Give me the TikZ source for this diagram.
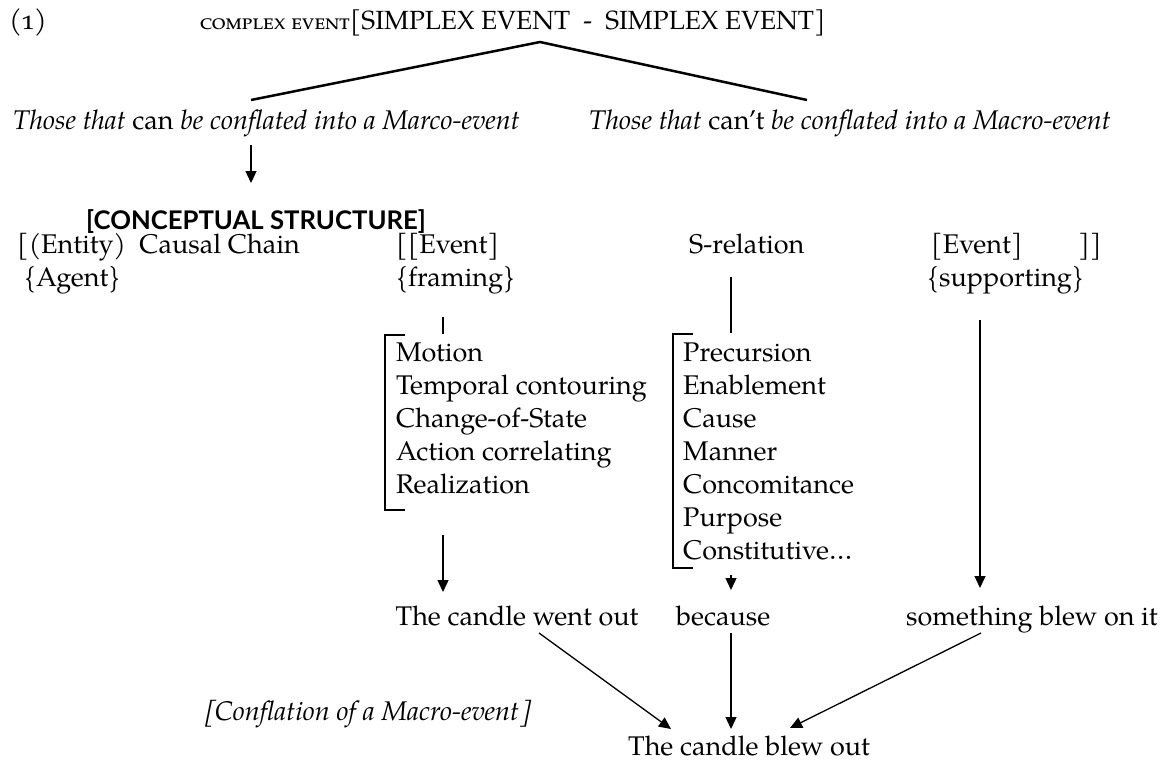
\documentclass[tikz,border=0pt]{standalone}
\usepackage{fontspec}
\setmainfont{texgyrepagella}[Extension=.otf, UprightFont=*-regular, ItalicFont=*-italic, BoldFont=*-bold, BoldItalicFont=*-bolditalic]
\newfontfamily\slbr{texgyrepagella}[Extension=.otf, UprightFont=*-regular, FakeSlant=0.2]
\newfontfamily\hsans{Lato}
\usetikzlibrary{arrows.meta}
\tikzset{
  txt/.style={inner sep=0pt, anchor=base west, font=\fontsize{27}{33}\selectfont},
  ttl/.style={inner sep=0pt, anchor=base west, font=\fontsize{26.3}{30}\selectfont},
  arr/.style={-{Triangle[length=12pt,width=11pt]}, line width=1.3pt},
  fork/.style={line width=2.5pt},
  brk/.style={line width=2.3pt, miter limit=10},
  stem/.style={line width=2pt}
}
\begin{document}
\begin{tikzpicture}[x=1pt,y=-1pt]
\useasboundingbox (0,0) rectangle (1164,761);
% title
\node[ttl, font=\fontsize{28}{30}\selectfont] (num) at (9,29) {\addfontfeatures{Numbers=OldStyle}(1)};
\node[ttl] (se) at (350,29) {[SIMPLEX EVENT\ \ -\ \ SIMPLEX EVENT]};
\node[ttl, anchor=base east, font=\fontsize{23.5}{26}\selectfont\scshape] (cx) at (se.base west) {complex event};
\coordinate (apex) at (540,42);
\coordinate (lt) at (251,100);
\coordinate (rt) at (807,100);
\draw[fork] (lt) -- (apex) -- (rt);
% two kinds
\node[txt] (can) at (13,129) {\textit{Those that} can \textit{be conflated into a Marco-event}};
\node[txt] (cant) at (589,129) {\textit{Those that} can’t \textit{be conflated into a Macro-event}};
\coordinate (a0s) at (251,145);
\coordinate (a0e) at (251,183);
\draw[arr] (a0s) -- (a0e);
% conceptual structure
\node[txt, font={\fontsize{25.7}{30}\hsans\bfseries}] (cs) at (86,229) {[CONCEPTUAL STRUCTURE]};
\node[txt] (entity) at (17,253) {[(Entity)\ \ Causal Chain};
\node[txt] (evf) at (396,253) {[[Event]};
\node[txt] (srel) at (689,253) {S-relation};
\node[txt] (evs) at (931,253) {[Event]};
\node[txt] (rbr) at (1078,253) {]]};
\node[txt] (agent) at (24,286) {\{Agent\}};
\node[txt] (framing) at (396,286) {\{framing\}};
\node[txt] (supp) at (927,286) {\{supporting\}};
% framing list
\coordinate (f1) at (443,317);
\coordinate (f2) at (443,334);
\draw[stem] (f1) -- (f2);
\draw[brk] (405,335) -- (385,335) -- (385,510) -- (405,510);
\foreach \t [count=\i] in {Motion, Temporal contouring, Change-of-State, Action correlating, Realization}
  \node[txt] (m\i) at (396,328.7+33*\i) {\t};
% S-relation list
\coordinate (s1) at (731,277);
\coordinate (s2) at (731,333);
\draw[stem] (s1) -- (s2);
\draw[brk] (693,334) -- (673,334) -- (673,568) -- (693,568);
\foreach \t [count=\i] in {Precursion, Enablement, Cause, Manner, Concomitance, Purpose, {Constitutive…}}
  \node[txt] (p\i) at (683,328.7+33*\i) {\t};
% arrows down to sentence
\coordinate (fa1) at (443,535);
\coordinate (fa2) at (443,592);
\draw[arr] (fa1) -- (fa2);
\coordinate (sa1) at (731,575);
\coordinate (sa2) at (731,590);
\draw[arr] (sa1) -- (sa2);
\coordinate (ua1) at (980,320);
\coordinate (ua2) at (980,588);
\draw[arr] (ua1) -- (ua2);
% sentence
\node[txt] (went) at (395.5,625) {The candle went out};
\node[txt] (because) at (676,625) {because};
\node[txt] (sblew) at (906,625) {something blew on it};
% conflation
\node[txt] (conf) at (203,720) {{\slbr[}\textit{Conflation of a Macro-event}{\slbr]}};
\node[txt] (blew) at (628,755) {The candle blew out};
\coordinate (d1s) at (539,633);
\coordinate (d1e) at (671,729);
\coordinate (d2s) at (731,633);
\coordinate (d2e) at (731,729);
\coordinate (d3s) at (981,633);
\coordinate (d3e) at (790,728);
\draw[arr] (d1s) -- (d1e);
\draw[arr] (d2s) -- (d2e);
\draw[arr] (d3s) -- (d3e);
\end{tikzpicture}
\end{document}
